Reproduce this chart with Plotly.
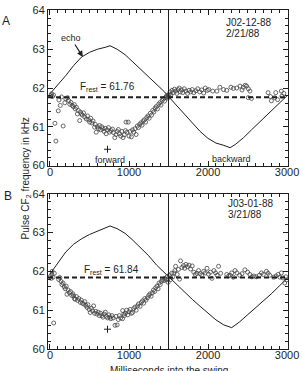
import plotly.graph_objects as go

# ---------------- data ----------------
x_ticks = [0, 1000, 2000, 3000]
y_ticks = [60, 61, 62, 63, 64]
swing_mid = 1500

# Panel A
frest_a = 61.76
echo_a_t = [0, 100, 200, 300, 400, 500, 600, 700, 760, 850, 950, 1050, 1150, 1250, 1350, 1450, 1500,
            1600, 1700, 1800, 1900, 2000, 2100, 2200, 2280, 2350, 2450, 2550, 2650, 2750, 2850, 2950, 3000]
echo_a_f = [61.85, 62.08, 62.32, 62.58, 62.8, 62.92, 63.0, 63.05, 63.09, 63.0, 62.86, 62.67, 62.48, 62.3, 62.1, 61.9, 61.78,
            61.55, 61.33, 61.1, 60.88, 60.7, 60.58, 60.52, 60.46, 60.55, 60.72, 60.92, 61.12, 61.32, 61.52, 61.7, 61.8]
pts_a = [(10, 61.80), (20, 61.85), (30, 61.78), (45, 61.82), (63, 61.09), (75, 60.63), (105, 61.41), (167, 61.02),
         (113, 61.69), (146, 61.77), (130, 61.55), (188, 61.62), (200, 61.72), (222, 61.75), (235, 61.68), (251, 61.58),
         (265, 61.63), (280, 61.55), (295, 61.52), (310, 61.57), (320, 61.46), (335, 61.50), (347, 61.33), (360, 61.42),
         (376, 61.16), (385, 61.38), (397, 61.33), (410, 61.30), (425, 61.36), (440, 61.25), (460, 61.20), (475, 61.28),
         (490, 61.18), (502, 61.12), (515, 61.22), (530, 61.10), (545, 61.15), (565, 60.99), (575, 61.06), (585, 60.86),
         (600, 61.00), (615, 60.95), (627, 61.03), (640, 60.92), (655, 61.00), (669, 60.95), (685, 60.88), (700, 60.96),
         (711, 60.82), (725, 60.92), (740, 60.98), (755, 60.86), (774, 60.90), (790, 60.94), (805, 60.85), (820, 60.72),
         (835, 60.80), (850, 60.88), (865, 60.93), (880, 60.82), (895, 60.76), (910, 60.88), (925, 60.72), (940, 60.79),
         (955, 60.90), (962, 61.12), (975, 60.86), (990, 61.12), (1000, 60.76), (1015, 60.88), (1030, 60.74), (1045, 60.92),
         (1060, 60.86), (1075, 60.95), (1090, 60.80), (1105, 61.02), (1120, 60.98), (1135, 61.06), (1150, 61.10),
         (1165, 61.04), (1180, 61.15), (1195, 61.18), (1210, 61.12), (1225, 61.24), (1240, 61.28), (1255, 61.22),
         (1270, 61.35), (1285, 61.30), (1300, 61.42), (1315, 61.38), (1330, 61.48), (1345, 61.52), (1360, 61.46),
         (1375, 61.58), (1390, 61.62), (1405, 61.56), (1420, 61.68), (1435, 61.72), (1450, 61.66), (1465, 61.76),
         (1475, 61.80), (1485, 61.74), (1495, 61.82), (1490, 61.78), (1500, 61.76),
         (1510, 61.84), (1520, 61.90), (1530, 61.82), (1545, 61.94), (1560, 61.88), (1575, 61.97), (1590, 61.92),
         (1605, 61.86), (1620, 61.96), (1635, 62.00), (1650, 61.90), (1665, 61.95), (1680, 61.88), (1700, 61.98),
         (1720, 61.92), (1740, 61.86), (1760, 61.94), (1780, 61.90), (1800, 61.96), (1820, 61.88), (1845, 61.93),
         (1870, 61.98), (1895, 61.90), (1920, 61.95), (1945, 61.87), (1965, 62.00), (1990, 61.94), (2010, 61.96),
         (2060, 61.92), (2112, 61.92), (2150, 62.02), (2196, 61.96), (2237, 61.94), (2290, 62.02), (2321, 61.99),
         (2363, 62.00), (2405, 62.05), (2430, 61.95), (2447, 62.02), (2470, 62.07), (2488, 62.05), (2510, 61.98),
         (2530, 61.92), (2509, 61.75), (2551, 61.73), (2760, 61.88), (2790, 61.78), (2802, 61.67), (2844, 61.75),
         (2857, 61.88), (2880, 61.70), (2928, 61.92), (2935, 61.79), (2960, 61.86)]
plus_a_t = [728]
plus_a_f = [60.42]

# Panel B
frest_b = 61.84
echo_b_t = [0, 100, 200, 300, 400, 500, 600, 700, 760, 850, 950, 1050, 1150, 1250, 1350, 1450, 1500,
            1600, 1700, 1800, 1900, 2000, 2100, 2200, 2300, 2400, 2500, 2600, 2700, 2800, 2900, 3000]
echo_b_f = [61.93, 62.22, 62.5, 62.7, 62.84, 62.95, 63.03, 63.12, 63.17, 63.1, 62.98, 62.8, 62.6, 62.4, 62.16, 61.96, 61.87,
            61.67, 61.48, 61.28, 61.1, 60.93, 60.75, 60.62, 60.55, 60.7, 60.88, 61.05, 61.22, 61.42, 61.62, 61.82]
pts_b = [(5, 61.87), (15, 61.82), (25, 61.92), (27, 62.00), (40, 61.85), (55, 61.95), (47, 60.67),
         (110, 61.79), (125, 61.84), (140, 61.74), (152, 61.66), (165, 61.70), (180, 61.60), (195, 61.55), (205, 61.62),
         (215, 61.41), (230, 61.52), (245, 61.45), (260, 61.48), (275, 61.38), (290, 61.42), (299, 61.37), (310, 61.30),
         (320, 61.28), (335, 61.35), (350, 61.25), (365, 61.30), (385, 61.20), (395, 61.26), (410, 61.18), (427, 61.16),
         (440, 61.22), (455, 61.12), (469, 61.07), (480, 61.14), (495, 61.02), (510, 60.94), (525, 61.05), (540, 60.98),
         (552, 61.11), (565, 60.92), (580, 60.97), (594, 60.90), (610, 60.95), (625, 60.86), (640, 60.92), (657, 60.86),
         (670, 60.82), (685, 60.90), (700, 60.95), (715, 60.84), (730, 60.80), (745, 60.88), (757, 60.82), (770, 60.78),
         (785, 60.86), (800, 60.80), (823, 60.61), (850, 60.62), (836, 60.84), (865, 60.76), (878, 60.86), (895, 60.80),
         (920, 60.99), (918, 60.78), (935, 60.90), (941, 60.86), (955, 60.92), (970, 61.00), (985, 60.88), (1000, 60.96),
         (1015, 61.02), (1030, 60.92), (1045, 60.94), (1060, 61.04), (1075, 61.08), (1090, 61.00), (1108, 61.11),
         (1120, 61.16), (1140, 61.10), (1155, 61.20), (1171, 61.24), (1185, 61.18), (1200, 61.30), (1215, 61.26),
         (1233, 61.32), (1250, 61.38), (1265, 61.42), (1280, 61.36), (1296, 61.45), (1310, 61.52), (1325, 61.48),
         (1338, 61.58), (1355, 61.62), (1368, 61.55), (1380, 61.70), (1395, 61.66), (1410, 61.74), (1422, 61.79),
         (1440, 61.76), (1455, 61.82), (1470, 61.78), (1485, 61.87), (1495, 61.72), (1492, 61.80),
         (1510, 61.90), (1527, 61.79), (1540, 61.95), (1555, 61.86), (1569, 61.96), (1580, 62.02), (1590, 62.13),
         (1610, 61.92), (1625, 62.05), (1640, 61.80), (1652, 62.27), (1670, 62.10), (1690, 62.15), (1705, 62.08),
         (1720, 62.18), (1740, 62.12), (1760, 62.16), (1780, 62.06), (1800, 62.14), (1820, 61.98), (1840, 61.92),
         (1860, 61.95), (1880, 62.02), (1900, 61.94), (1920, 61.90), (1945, 62.00), (1965, 61.96), (1987, 62.08),
         (2005, 61.93), (2030, 61.98), (2050, 61.82), (2075, 62.02), (2095, 61.96), (2115, 61.90), (2133, 62.13),
         (2160, 61.95), (2237, 61.92), (2260, 61.88), (2280, 61.90), (2300, 61.96), (2320, 61.85), (2342, 62.02),
         (2365, 61.96), (2400, 61.90), (2430, 61.94), (2467, 62.04), (2500, 61.98), (2530, 61.92), (2555, 61.86),
         (2580, 61.88), (2610, 61.86), (2650, 61.90), (2676, 61.96), (2700, 61.92), (2739, 62.00), (2760, 61.95),
         (2780, 61.90), (2830, 61.85), (2860, 61.88), (2886, 61.92), (2910, 61.85), (2928, 61.96), (2949, 61.83),
         (2970, 61.70), (2985, 61.86), (2995, 61.78)]
plus_b_t = [728]
plus_b_f = [60.51]

# ---------------- figure ----------------
FONT = "Liberation Sans, Arial, Helvetica, sans-serif"
INK = "#1e1e1e"

fig = go.Figure()

def add_panel(xa, ya, echo_t, echo_f, pts, plus_t, plus_f):
    fig.add_trace(go.Scatter(x=echo_t, y=echo_f, mode="lines", xaxis=xa, yaxis=ya,
                             line=dict(color=INK, width=1), showlegend=False, hoverinfo="skip"))
    fig.add_trace(go.Scatter(x=[p[0] for p in pts], y=[p[1] for p in pts], mode="markers",
                             xaxis=xa, yaxis=ya, showlegend=False,
                             marker=dict(symbol="circle-open", size=4, color="#444444",
                                         line=dict(width=0.8, color="#444444"))))
    fig.add_trace(go.Scatter(x=plus_t, y=plus_f, mode="markers", xaxis=xa, yaxis=ya, showlegend=False,
                             marker=dict(symbol="cross-thin", size=5, line=dict(width=1, color=INK))))

add_panel("x", "y", echo_a_t, echo_a_f, pts_a, plus_a_t, plus_a_f)
add_panel("x2", "y2", echo_b_t, echo_b_f, pts_b, plus_b_t, plus_b_f)

axis_common = dict(showline=True, linecolor=INK, linewidth=1, mirror="ticks", ticks="inside",
                   ticklen=5, tickwidth=1, tickcolor=INK, showgrid=False, zeroline=False,
                   tickfont=dict(family=FONT, size=11, color=INK))
xr = [-25, 3012]
fig.update_layout(
    width=303, height=371,
    margin=dict(l=48, r=12, t=4, b=22),
    paper_bgcolor="white", plot_bgcolor="white",
    xaxis=dict(domain=[0, 1], anchor="y", range=xr, tickvals=x_ticks, ticklabelstandoff=-4,
               minor=dict(ticks="inside", ticklen=3, dtick=100, tickcolor=INK), **axis_common),
    yaxis=dict(domain=[0.5412, 0.9986], anchor="x", range=[60, 64], tickvals=y_ticks,
               minor=dict(ticks="inside", ticklen=3, dtick=0.2, tickcolor=INK), **axis_common),
    xaxis2=dict(domain=[0, 1], anchor="y2", range=xr, tickvals=x_ticks, ticklabelstandoff=-4,
                minor=dict(ticks="inside", ticklen=3, dtick=100, tickcolor=INK), **axis_common),
    yaxis2=dict(domain=[0, 0.458], anchor="x2", range=[60, 64], tickvals=y_ticks,
                minor=dict(ticks="inside", ticklen=3, dtick=0.2, tickcolor=INK), **axis_common),
)

for xa, ya, fr in (("x", "y", frest_a), ("x2", "y2", frest_b)):
    fig.add_shape(type="line", xref=xa + " domain", yref=ya, x0=0, x1=1, y0=fr, y1=fr,
                  line=dict(color=INK, width=2, dash="5px,3px"))
    fig.add_shape(type="line", xref=xa, yref=ya + " domain", x0=swing_mid, x1=swing_mid, y0=0, y1=1,
                  line=dict(color=INK, width=1))

def txt(x, y, s, size=10, xref="x", yref="y", xanchor="center", **kw):
    fig.add_annotation(x=x, y=y, text=s, xref=xref, yref=yref, showarrow=False, xanchor=xanchor,
                       font=dict(family=FONT, size=size, color=INK), **kw)

# Panel A annotations
fig.add_annotation(x=416, y=62.80, xref="x", yref="y", text="echo", showarrow=True,
                   ax=-12, ay=-19, arrowhead=2, arrowsize=1, arrowwidth=1.2, arrowcolor=INK,
                   font=dict(family=FONT, size=9, color=INK))
txt(725, 62.02, "F<sub>rest</sub> = 61.76", size=10)
txt(762, 60.13, "forward", size=9)
txt(2300, 60.16, "backward", size=9)
txt(2200, 63.69, "J02-12-88", size=10, xanchor="left")
txt(2200, 63.41, "2/21/88", size=10, xanchor="left")

# Panel B annotations
txt(775, 62.04, "F<sub>rest</sub> = 61.84", size=10, xref="x2", yref="y2")
txt(2225, 63.75, "J03-01-88", size=10, xref="x2", yref="y2", xanchor="left")
txt(2225, 63.46, "3/21/88", size=10, xref="x2", yref="y2", xanchor="left")

# Panel letters and axis titles
txt(-0.173, 0.994, "A", size=12, xref="paper", yref="paper")
txt(-0.165, 0.452, "B", size=12, xref="paper", yref="paper")
txt(-0.0905, 0.504, "Pulse CF<sub>2</sub> frequency in kHz", size=10, xref="paper", yref="paper",
    textangle=-90)
txt(0.506, -0.042, "Milliseconds into the swing", size=10, xref="paper", yref="paper", yanchor="top")

fig.write_html("out.html")
